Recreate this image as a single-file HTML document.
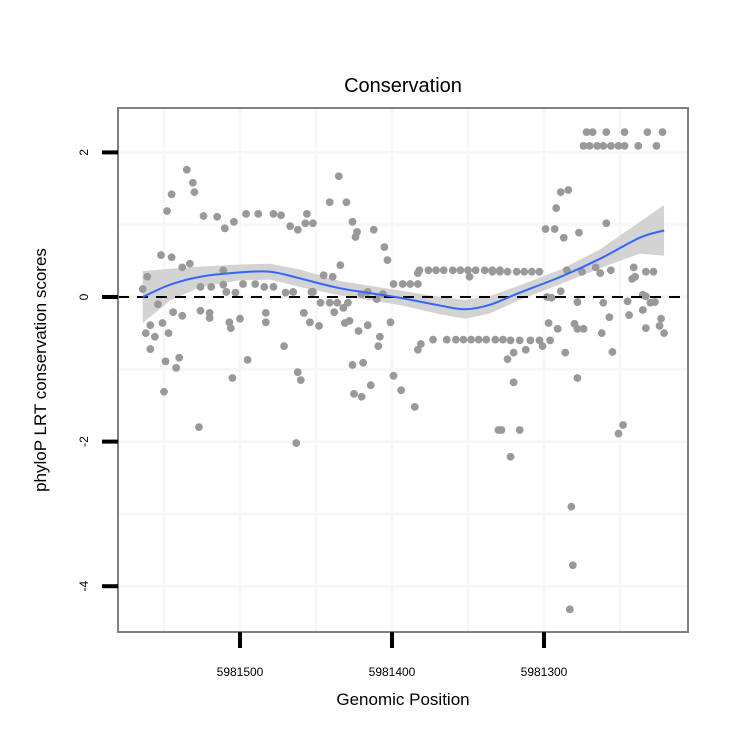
<!DOCTYPE html>
<html><head><meta charset="utf-8"><style>
body{margin:0;background:#fff;}
svg text{font-family:"Liberation Sans",sans-serif;}
</style></head><body>
<svg id="chart" width="750" height="750" xmlns="http://www.w3.org/2000/svg">
<rect width="750" height="750" fill="#fff"/>
<text x="403" y="92" font-size="20" text-anchor="middle">Conservation</text>
<text x="403" y="705" font-size="17" text-anchor="middle">Genomic Position</text>
<text transform="translate(46,370) rotate(-90)" font-size="17" text-anchor="middle">phyloP LRT conservation scores</text>
<g id="grid"></g>
<g id="band"></g>
<g id="pts"></g>
<g id="fg"></g>
</svg>
<script>
const posVals=[5981535,5981531,5981530,5981545,5981548,5981524,5981515,5981510,5981504,5981496,5981488,5981478,5981473,5981467,5981462,5981456,5981452,5981552,5981545,5981538,5981533,5981561,5981564,5981554,5981544,5981538,5981526,5981520,5981520,5981526,5981519,5981511,5981511,5981509,5981503,5981498,5981490,5981484,5981478,5981470,5981465,5981453,5981507,5981506,5981500,5981483,5981483,5981559,5981562,5981556,5981547,5981551,5981559,5981549,5981540,5981542,5981495,5981471,5981458,5981454,5981505,5981462,5981460,5981550,5981527,5981463,
5981435,5981441,5981430,5981457,5981426,5981423,5981424,5981412,5981405,5981403,5981434,5981445,5981439,5981383,5981382,5981376,5981371,5981366,5981360,5981355,5981350,5981345,5981339,5981334,5981329,5981349,5981399,5981393,5981388,5981383,5981452,5981447,5981441,5981436,5981429,5981432,5981438,5981458,5981448,5981416,5981406,5981410,5981420,5981431,5981428,5981422,5981416,5981401,5981408,5981409,5981383,5981381,5981373,5981364,5981358,5981353,5981348,5981343,5981338,5981332,5981327,5981322,5981316,5981309,5981303,5981296,5981426,5981419,5981399,5981414,5981394,5981425,5981420,5981385,5981330,
5981272,5981268,5981259,5981247,5981232,5981222,5981274,5981270,5981265,5981261,5981256,5981251,5981247,5981238,5981226,5981289,5981284,5981292,5981259,5981299,5981293,5981287,5981277,5981334,5981329,5981324,5981318,5981313,5981308,5981303,5981285,5981275,5981266,5981263,5981256,5981241,5981242,5981240,5981233,5981228,5981289,5981298,5981295,5981278,5981261,5981245,5981235,5981233,5981230,5981227,5981235,5981257,5981244,5981297,5981291,5981280,5981278,5981274,5981262,5981223,5981224,5981221,5981233,5981320,5981324,5981312,5981301,5981286,5981255,5981320,5981278,5981328,5981316,5981322,5981248,5981251,5981282,5981281,5981283];
const scoreVals=[1.76,1.58,1.45,1.42,1.19,1.12,1.11,0.95,1.04,1.15,1.15,1.15,1.13,0.98,0.93,1.15,1.02,0.58,0.55,0.41,0.46,0.28,0.11,-0.10,-0.21,-0.26,-0.19,-0.22,-0.29,0.14,0.14,0.37,0.17,0.07,0.06,0.18,0.18,0.14,0.14,0.06,0.07,0.07,-0.35,-0.43,-0.30,-0.22,-0.35,-0.39,-0.50,-0.55,-0.50,-0.36,-0.72,-0.89,-0.84,-0.98,-0.87,-0.68,-0.22,-0.35,-1.12,-1.04,-1.15,-1.31,-1.80,-2.02,
1.67,1.31,1.31,1.02,1.04,0.90,0.83,0.93,0.69,0.51,0.44,0.30,0.28,0.33,0.37,0.37,0.37,0.37,0.37,0.37,0.37,0.37,0.37,0.37,0.37,0.28,0.18,0.18,0.18,0.18,0.07,-0.08,-0.08,-0.08,-0.08,-0.15,-0.21,-0.22,-0.40,0.07,0.04,-0.03,0.04,-0.36,-0.33,-0.47,-0.39,-0.35,-0.55,-0.68,-0.73,-0.65,-0.59,-0.59,-0.59,-0.59,-0.59,-0.59,-0.59,-0.59,-0.59,-0.60,-0.60,-0.60,-0.60,-0.60,-0.94,-0.91,-1.09,-1.22,-1.29,-1.34,-1.38,-1.52,-1.84,
2.28,2.28,2.28,2.28,2.28,2.28,2.09,2.09,2.09,2.09,2.09,2.09,2.09,2.09,2.09,1.45,1.48,1.23,1.02,0.94,0.94,0.82,0.89,0.35,0.35,0.35,0.35,0.35,0.35,0.35,0.37,0.35,0.41,0.33,0.37,0.41,0.25,0.28,0.35,0.35,0.08,0.00,-0.01,-0.07,-0.08,-0.06,0.03,0.01,-0.08,-0.07,-0.18,-0.28,-0.25,-0.36,-0.44,-0.37,-0.44,-0.44,-0.50,-0.30,-0.40,-0.50,-0.43,-0.77,-0.86,-0.73,-0.68,-0.77,-0.76,-1.18,-1.12,-1.84,-1.84,-2.21,-1.77,-1.89,-2.90,-3.71,-4.32];
const smoothPos=[5981564,5981546,5981526,5981500,5981480,5981461,5981434,5981395,5981368,5981352,5981336,5981316,5981289,5981263,5981237,5981221];
const smoothFit=[0.00,0.17,0.28,0.34,0.35,0.26,0.12,-0.01,-0.12,-0.17,-0.11,0.06,0.28,0.53,0.82,0.92];
const smoothSe=[0.36,0.22,0.14,0.11,0.11,0.12,0.10,0.10,0.12,0.13,0.12,0.10,0.10,0.13,0.22,0.35];
const xTicks=[5981500,5981400,5981300];
const yTicks=[2,0,-2,-4];

const NS='http://www.w3.org/2000/svg';
const L=118,R=688,T=108,B=632;
const xS=v=>240+(5981500-v)*1.52;
const yS=v=>297-v*72.3;
function mk(tag,attrs,parent){const e=document.createElementNS(NS,tag);for(const k in attrs)e.setAttribute(k,attrs[k]);parent.appendChild(e);return e;}
const grid=document.getElementById('grid'),band=document.getElementById('band'),pts=document.getElementById('pts'),fg=document.getElementById('fg');
[5981550,5981500,5981450,5981400,5981350,5981300,5981250].forEach(v=>{
  const g=mk('line',{x1:xS(v),x2:xS(v),y1:T,y2:B,stroke:'#f7f7f7','stroke-width':3},grid);
  
  
});
[2,1,0,-1,-2,-3,-4].forEach(v=>{
  const g=mk('line',{x1:L,x2:R,y1:yS(v),y2:yS(v),stroke:'#f7f7f7','stroke-width':3},grid);
  
  
});
let up=smoothPos.map((p,i)=>xS(p)+','+yS(smoothFit[i]+smoothSe[i]));
let lo=smoothPos.map((p,i)=>xS(p)+','+yS(smoothFit[i]-smoothSe[i])).reverse();
const bp=mk('polygon',{points:up.concat(lo).join(' '),fill:'#d3d3d3'},band);


posVals.forEach((p,i)=>{
  const c=mk('circle',{cx:xS(p),cy:yS(scoreVals[i]),r:3.9,fill:'#999'},pts);
  
  
});
const z=mk('line',{x1:L,x2:R,y1:yS(0),y2:yS(0),stroke:'#000','stroke-width':2,'stroke-dasharray':'11 8'},fg);


const sp=smoothPos.map((p,i)=>[xS(p),yS(smoothFit[i])]);
let d='M'+sp[0][0]+','+sp[0][1];
for(let i=0;i<sp.length-1;i++){const p0=sp[Math.max(0,i-1)],p1=sp[i],p2=sp[i+1],p3=sp[Math.min(sp.length-1,i+2)];
d+=' C'+(p1[0]+(p2[0]-p0[0])/6)+','+(p1[1]+(p2[1]-p0[1])/6)+' '+(p2[0]-(p3[0]-p1[0])/6)+','+(p2[1]-(p3[1]-p1[1])/6)+' '+p2[0]+','+p2[1];}
const sl=mk('path',{d:d,fill:'none',stroke:'#3366ff','stroke-width':2},fg);


const br=mk('rect',{x:L,y:T,width:R-L,height:B-T,fill:'none',stroke:'#808080','stroke-width':2},fg);


xTicks.forEach(v=>{
  const t=mk('line',{x1:xS(v),x2:xS(v),y1:B,y2:B+16,stroke:'#000','stroke-width':4},fg);
  
  
  const tx=mk('text',{x:xS(v),y:676,'font-size':12,'text-anchor':'middle'},fg);
  tx.textContent=v;
  
  
});
yTicks.forEach(v=>{
  const t=mk('line',{x1:L-16,x2:L,y1:yS(v),y2:yS(v),stroke:'#000','stroke-width':4},fg);
  
  
  const tx=mk('text',{transform:'translate(88,'+yS(v)+') rotate(-90)','font-size':12,'text-anchor':'middle'},fg);
  tx.textContent=v;
  
  
});
</script>
</body></html>
